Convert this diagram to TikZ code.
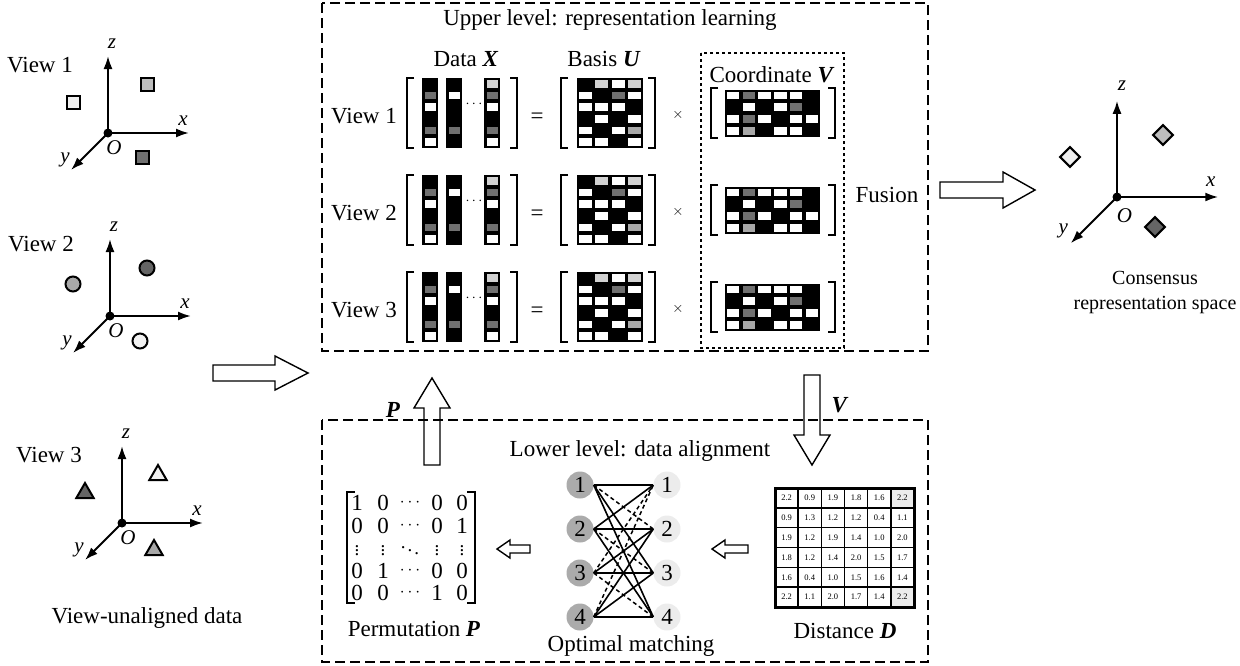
\documentclass[tikz,border=0pt]{standalone}
\usepackage{fontspec}
\setmainfont{Liberation Serif}
\usetikzlibrary{arrows.meta,shapes.geometric}
\definecolor{cK}{gray}{0}
\definecolor{cW}{gray}{1}
\definecolor{cG}{HTML}{707070}
\definecolor{cL}{HTML}{D2D2D2}
\definecolor{cM}{HTML}{A8A8A8}
\definecolor{leftn}{HTML}{ABABAB}
\definecolor{rightn}{HTML}{ECECEC}
\newcommand\bx[1]{\textbf{\textit{#1}}}
% cell matrix: x, y, width, height, pitch x, pitch y, inset x, inset y, rows
\newcommand\cellmat[9]{%
  \fill[black] (#1,#2) rectangle ++(#3,#4);
  \foreach \row [count=\j from 0] in {#9} {
    \foreach \c [count=\i from 0] in \row {
      \fill[c\c] ({#1+\i*#5+#7},{#2+\j*#6+#8}) rectangle ({#1+(\i+1)*#5-#7},{#2+(\j+1)*#6-#8});
    }
  }}
% brackets: xl, xr, ytop, ybot
\newcommand\brk[4]{%
  \draw[brkline] ({#1+7},#3) -- (#1,#3) -- (#1,#4) -- ({#1+7},#4);
  \draw[brkline] ({#2-7},#3) -- (#2,#3) -- (#2,#4) -- ({#2-7},#4);}
% block arrow: x, y, rotation, length, shaft half, head half, head length
\newcommand\blockarr[7]{%
  \draw[barrow, shift={(#1,#2)}, rotate=#3] (0,-#5) -- ({#4-#7},-#5) -- ({#4-#7},-#6) -- (#4,0) -- ({#4-#7},#6) -- ({#4-#7},#5) -- (0,#5) -- cycle;}
% axes: name, x, y, scale
\newcommand\axes[4]{%
  \begin{scope}[shift={(#2,#3)}, scale=#4]
    \node[odot] (#1) at (0,0) {};
    \draw[axis] (#1.center) -- (0,-77) coordinate (#1z);
    \draw[axis] (#1.center) -- (81,0) coordinate (#1x);
    \draw[axis] (#1.center) -- (-37,37) coordinate (#1y);
    \node[axlab] (#1zl) at (4,-89) {\textit{z}};
    \node[axlab] (#1xl) at (75,-12) {\textit{x}};
    \node[axlab] (#1yl) at (-43,27) {\textit{y}};
    \node[axlab] (#1ol) at (6,15) {\textit{O}};
  \end{scope}}
\tikzset{
  every node/.style={font=\fontsize{23}{27}\selectfont, inner sep=0pt},
  dbox/.style={line width=2.2pt, dash pattern=on 10pt off 5pt},
  dotbox/.style={line width=2.4pt, dash pattern=on 3pt off 3pt},
  brkline/.style={line width=2pt},
  axis/.style={line width=2pt, -{Latex[length=13pt,width=9pt]}},
  axlab/.style={font=\fontsize{21}{24}\selectfont},
  odot/.style={circle, fill=black, minimum size=9pt},
  barrow/.style={line width=1.4pt, fill=white, line join=miter},
  sq/.style={draw, line width=2pt, minimum size=13pt},
  circ/.style={draw, circle, line width=2pt, minimum size=15pt},
  tri/.style={draw, regular polygon, regular polygon sides=3, line width=2pt, minimum size=20pt},
  dia/.style={draw, rotate=45, line width=2.2pt, minimum size=14pt},
  lnode/.style={circle, fill=leftn, minimum size=27pt},
  rnode/.style={circle, fill=rightn, minimum size=27pt},
  edge/.style={line width=1.6pt},
  dedge/.style={line width=1.5pt, dash pattern=on 4pt off 3pt},
  small/.style={font=\fontsize{15}{17}\selectfont},
  tiny/.style={font=\fontsize{8.5}{10}\selectfont},
  conslab/.style={font=\fontsize{20}{24}\selectfont},
  pdots/.style={font=\fontsize{19}{21}\selectfont},
  hdots/.style={font=\fontsize{19}{21}\selectfont},
}
\begin{document}
\begin{tikzpicture}[x=1pt,y=-1pt]
\useasboundingbox (0,0) rectangle (1240,665);

% ---------- left: view-unaligned data ----------
\node (v1lab) at (40,65) {View 1};
\axes{oa}{108}{133}{1}
\node[sq, fill=cW!94!black] (s1) at (73,102) {};
\node[sq, fill=cL!90!black] (s2) at (147,84) {};
\node[sq, fill=cG] (s3) at (142,157) {};

\node (v2lab) at (41,244) {View 2};
\axes{ob}{110}{316}{1}
\node[circ, fill=cM] (c1) at (73,284) {};
\node[circ, fill=cG!90!black] (c2) at (147,268) {};
\node[circ, fill=cW!95!black] (c3) at (140,341) {};

\node (v3lab) at (49,455) {View 3};
\axes{oc}{122}{523}{1}
\node[tri, fill=cG!90!black] (t1) at (85,493) {};
\node[tri, fill=cW!94!black] (t2) at (158,475) {};
\node[tri, fill=cM] (t3) at (154,550) {};

\node (unal) at (147,618) {View-unaligned data};

% ---------- upper level box ----------
\draw[dbox] (322,3) rectangle (928,351);
\node (uplab) at (610,20) {Upper level: representation learning};
\node (datalab) at (466,59) {Data \bx{X}};
\node (basislab) at (604,59) {Basis \bx{U}};
\draw[dotbox] (701,53) rectangle (844,348);
\node (coordlab) at (772,75) {Coordinate \bx{V}};
\node (fusion) at (887,195) {Fusion};

\foreach \cy [count=\k] in {113,210,307} {
  \node (view\k) at (364,{\cy+3}) {View \k};
  % data X
  \brk{407}{517}{\cy-35}{\cy+35}
  \cellmat{422}{\cy-35}{16}{70}{16}{11.667}{2.5}{2}{{K},{G},{W},{K},{G},{W}}
  \cellmat{446}{\cy-35}{16}{70}{16}{11.667}{2.5}{2}{{K},{W},{K},{K},{G},{K}}
  \cellmat{484}{\cy-35}{16}{70}{16}{11.667}{2.5}{2}{{L},{G},{W},{K},{G},{W}}
  \node[small] (dots\k) at (474,{\cy-9}) {$\cdots$};
  \node (eq\k) at (537,{\cy+5}) {=};
  % basis U
  \brk{561}{655}{\cy-35}{\cy+35}
  \cellmat{577}{\cy-35}{66}{70}{16.5}{11.667}{1.8}{2}{{K,L,W,L},{W,K,G,W},{W,W,W,K},{K,W,K,W},{W,K,W,M},{W,W,K,W}}
  \node[small] (times\k) at (678,{\cy+2}) {$\times$};
  % coordinate V
  \brk{711}{835}{\cy-25}{\cy+25}
  \cellmat{725}{\cy-23.5}{95}{47}{15.83}{11.75}{1.8}{2}{{W,G,W,W,W,K},{K,W,K,W,G,K},{W,G,W,K,W,W},{W,M,K,W,W,K}}
}

% ---------- right: consensus ----------
\blockarr{940}{190}{0}{95}{8}{18}{32}
\axes{od}{1117}{197}{1.25}
\node[dia, fill=cW!94!black] (d1) at (1070,157) {};
\node[dia, fill=cL!90!black] (d2) at (1163,135) {};
\node[dia, fill=cG!90!black] (d3) at (1155,227) {};
\node[conslab] (cons1) at (1155,278) {Consensus};
\node[conslab] (cons2) at (1155,305) {representation space};

% ---------- connecting arrows ----------
\blockarr{213}{373}{0}{95}{8}{17}{33}
\blockarr{432}{465}{90}{87}{8}{18}{30}
\node (plab) at (393,410) {\bx{P}};
\blockarr{812}{375}{-90}{90}{8}{18}{30}
\node (vlab) at (840,405) {\bx{V}};

% ---------- lower level box ----------
\draw[dbox] (322,420) rectangle (928,662);
\node (lowlab) at (640,451) {Lower level: data alignment};

% distance matrix
\fill[white] (775,488) rectangle (914,607);
\fill[rightn] ({775+5*23.167},488) rectangle (914,{488+19.833});
\fill[rightn] ({775+5*23.167},{488+5*19.833}) rectangle (914,607);
\foreach \i in {1,...,5} {
  \draw[line width=1.4pt] ({775+\i*23.167},488) -- ++(0,119);
  \draw[line width=1.4pt] (775,{488+\i*19.833}) -- ++(139,0);
}
\draw[line width=3pt] (775,488) rectangle (914,607);
\foreach \row [count=\j from 0] in {{2.2,0.9,1.9,1.8,1.6,2.2},{0.9,1.3,1.2,1.2,0.4,1.1},{1.9,1.2,1.9,1.4,1.0,2.0},{1.8,1.2,1.4,2.0,1.5,1.7},{1.6,0.4,1.0,1.5,1.6,1.4},{2.2,1.1,2.0,1.7,1.4,2.2}} {
  \foreach \v [count=\i from 0] in \row {
    \node[tiny] at ({775+(\i+0.5)*23.167},{488+(\j+0.5)*19.833}) {\v};
  }
}
\node (distlab) at (845,631) {Distance \bx{D}};

\blockarr{748}{549}{180}{36}{4}{9}{13}

% bipartite matching
\foreach \k/\yy in {1/485,2/529,3/573,4/617} {
  \node[lnode] (l\k) at (580,\yy) {\k};
  \node[rnode] (r\k) at (667,\yy) {\k};
}
\foreach \a/\b in {1/1,1/3,1/4,2/1,2/2,2/4,3/2,3/3,4/2,4/3,4/4}
  \draw[edge] (l\a.east) -- (r\b.west);
\foreach \a/\b in {1/2,2/3,3/4,4/1,3/1}
  \draw[dedge] (l\a.east) -- (r\b.west);
\node (optlab) at (631,646) {Optimal matching};

\blockarr{530}{549}{180}{33}{4}{9}{13}

% permutation matrix
\draw[brkline] (355,492) -- (347,492) -- (347,603) -- (355,603);
\draw[brkline] (467,492) -- (475,492) -- (475,603) -- (467,603);
\foreach \row/\yy in {{1,0,*,0,0}/503,{0,0,*,0,1}/525.5,{0,1,*,0,0}/570.5,{0,0,*,1,0}/593} {
  \foreach \e [count=\i from 0] in \row {
    \pgfmathsetmacro\px{{357,383,410,437,462}[\i]}
    \if\e*
      \node[hdots] at (\px,\yy) {$\cdots$};
    \else
      \node at (\px,\yy) {\e};
    \fi
  }
}
\foreach \e [count=\i from 0] in {$\vdots$,$\vdots$,$\ddots$,$\vdots$,$\vdots$} {
  \pgfmathsetmacro\px{{357,383,410,437,462}[\i]}
  \node[pdots] at (\px,548) {\e};
}
\node (permlab) at (414,629) {Permutation \bx{P}};
\end{tikzpicture}
\end{document}
